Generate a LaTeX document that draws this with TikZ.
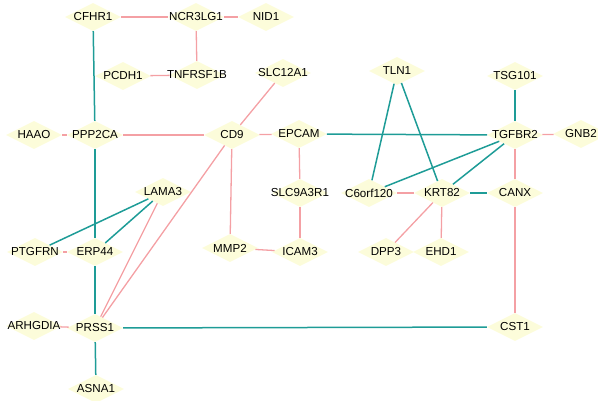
\documentclass[tikz,border=0pt]{standalone}
\usepackage{fontspec}
\setmainfont{Liberation Sans}
\usetikzlibrary{shapes}
\definecolor{genefill}{HTML}{FCFCDA}
\definecolor{pinkline}{HTML}{F4A0A4}
\definecolor{tealline}{HTML}{1E9C97}
\tikzset{
	x=1pt, y=-1pt,
	every label/.style={font=\fontsize{11.6}{13}\selectfont, inner sep=0pt},
	gene/.style={diamond, fill=genefill, minimum width=56pt, minimum height=28pt, inner sep=0pt, label=center:#1},
	pk/.style={draw=pinkline, line width=1.3pt},
	tl/.style={draw=tealline, line width=1.5pt},
}
\begin{document}
\begin{tikzpicture}
	\useasboundingbox (0,0) rectangle (598,400);
	% genes
	\node[gene=CFHR1] (cfhr1) at (93,17) {};
	\node[gene=NCR3LG1] (ncr3lg1) at (196,17) {};
	\node[gene=NID1] (nid1) at (266,17) {};
	\node[gene=PCDH1] (pcdh1) at (123,76) {};
	\node[gene=TNFRSF1B] (tnfrsf1b) at (197,75) {};
	\node[gene=SLC12A1] (slc12a1) at (283,73) {};
	\node[gene=TLN1] (tln1) at (397,71) {};
	\node[gene=TSG101] (tsg101) at (515,76) {};
	\node[gene=HAAO] (haao) at (34,135) {};
	\node[gene=PPP2CA] (ppp2ca) at (95,135) {};
	\node[gene=CD9] (cd9) at (232,135) {};
	\node[gene=EPCAM] (epcam) at (299,134) {};
	\node[gene=TGFBR2] (tgfbr2) at (515,135) {};
	\node[gene=GNB2] (gnb2) at (581,134) {};
	\node[gene=LAMA3] (lama3) at (163,192) {};
	\node[gene=SLC9A3R1] (slc9a3r1) at (300,193) {};
	\node[gene=C6orf120] (c6orf120) at (369,193) {};
	\node[gene=KRT82] (krt82) at (442,193) {};
	\node[gene=CANX] (canx) at (515,193) {};
	\node[gene=PTGFRN] (ptgfrn) at (35,252) {};
	\node[gene=ERP44] (erp44) at (95,252) {};
	\node[gene=MMP2] (mmp2) at (230,248) {};
	\node[gene=ICAM3] (icam3) at (300,252) {};
	\node[gene=DPP3] (dpp3) at (386,252) {};
	\node[gene=EHD1] (ehd1) at (441,252) {};
	\node[gene=ARHGDIA] (arhgdia) at (34,326) {};
	\node[gene=PRSS1] (prss1) at (95,328) {};
	\node[gene=CST1] (cst1) at (515,327) {};
	\node[gene=ASNA1] (asna1) at (96,389) {};
	% pink links
	\path[pk]
		(cfhr1) edge (ncr3lg1)
		(ncr3lg1) edge (nid1)
		(ncr3lg1) edge (tnfrsf1b)
		(pcdh1) edge (tnfrsf1b)
		(haao) edge (ppp2ca)
		(ppp2ca) edge (cd9)
		(slc12a1) edge (cd9)
		(cd9) edge (epcam)
		(cd9) edge (mmp2)
		(cd9) edge (prss1)
		(lama3) edge (prss1)
		(epcam) edge (slc9a3r1)
		(slc9a3r1) edge (icam3)
		(mmp2) edge (icam3)
		(c6orf120) edge (krt82)
		(krt82) edge (dpp3)
		(krt82) edge (ehd1)
		(tgfbr2) edge (gnb2)
		(tgfbr2) edge (canx)
		(canx) edge (cst1)
		(ptgfrn) edge (erp44)
		(arhgdia) edge (prss1);
	% teal links
	\path[tl]
		(cfhr1) edge (ppp2ca)
		(ppp2ca) edge (erp44)
		(erp44) edge (prss1)
		(prss1) edge (asna1)
		(prss1) edge (cst1)
		(lama3) edge (ptgfrn)
		(lama3) edge (erp44)
		(epcam) edge (tgfbr2)
		(tln1) edge (c6orf120)
		(tln1) edge (krt82)
		(tsg101) edge (tgfbr2)
		(tgfbr2) edge (c6orf120)
		(tgfbr2) edge (krt82)
		(krt82) edge (canx);
\end{tikzpicture}
\end{document}
